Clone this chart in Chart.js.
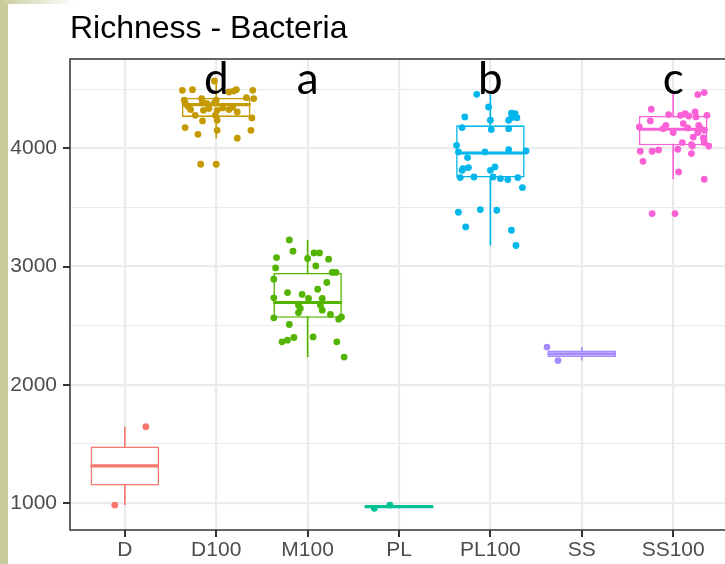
<!DOCTYPE html>
<html>
<head>
<meta charset="utf-8">
<script src="https://cdn.jsdelivr.net/npm/chart.js@4"></script>
<style>
  html, body { margin: 0; padding: 0; background: #fff; }
  #wrap { position: relative; width: 725px; height: 564px; overflow: hidden; }
  #strip { position: absolute; left: 0; top: 0; width: 8px; height: 564px; background: #cacb9c; }
  #fade { position: absolute; left: 0; top: 0; width: 75px; height: 4px; background: linear-gradient(to right, #cacb9c, #ffffff); }
  canvas { position: absolute; left: 0; top: 0; }
</style>
</head>
<body>
<div id="wrap">
  <canvas id="chart" width="735" height="564"></canvas>
  <div id="strip"></div>
  <div id="fade"></div>
</div>
<script>
// groups and box statistics
const categories = ['D', 'D100', 'M100', 'PL', 'PL100', 'SS', 'SS100'];
const colors = ['#F8766D', '#C49A00', '#53B400', '#00C094', '#00B6EB', '#A58AFF', '#FB61D7'];
const whiskerLow = [983, 4085, 2234, 955, 3178, 2205, 3738];
const quart1 = [1148, 4265, 2566, 962, 3752, 2234, 4025];
const medians = [1314, 4369, 2696, 969, 3960, 2262, 4161];
const quart3 = [1479, 4425, 2946, 976, 4194, 2290, 4273];
const whiskerHigh = [1645, 4569, 3225, 983, 4456, 2319, 4471];
const letters = ['', 'd', 'a', '', 'b', '', 'c'];

// y axis
const yTicks = [1000, 2000, 3000, 4000];
const yMinor = [1500, 2500, 3500, 4500];

// jittered samples (richness, horizontal jitter in category units)
const dRich = [983, 1645];
const dJit = [-0.11, 0.23];

const d100Rich = [4569, 4490, 4496, 4476, 4484, 4496, 4490, 4428, 4420, 4406, 4383, 4355, 4420, 4391, 4378, 4383, 4406, 4336, 4321, 4279, 4327, 4321, 4341, 4327, 4349, 4307, 4279, 4237, 4231, 4256, 4175, 4152, 4118, 4152, 4085, 3865, 3865];
const d100Jit = [-0.02, -0.37, -0.26, 0.14, 0.19, 0.22, 0.40, 0.33, 0.41, -0.35, -0.34, -0.31, -0.16, -0.15, -0.10, -0.02, 0.00, -0.08, -0.14, -0.23, -0.28, 0.01, 0.07, 0.14, 0.18, 0.23, -0.01, 0.01, -0.15, 0.39, -0.34, 0.01, -0.20, 0.38, 0.23, -0.17, 0.00];

const m100Rich = [3225, 3130, 3076, 3068, 3115, 3115, 3062, 3005, 2988, 2950, 2950, 2893, 2865, 2808, 2780, 2735, 2764, 2730, 2730, 2673, 2645, 2611, 2673, 2631, 2595, 2566, 2555, 2574, 2510, 2405, 2363, 2377, 2400, 2363, 2234];
const m100Jit = [-0.20, -0.16, -0.34, 0.00, 0.07, 0.13, 0.23, 0.09, -0.35, 0.27, 0.31, -0.37, 0.21, 0.11, -0.22, -0.37, -0.06, 0.01, 0.16, -0.10, -0.08, -0.10, 0.14, 0.16, 0.25, -0.37, 0.34, 0.37, -0.20, 0.06, -0.28, -0.22, -0.15, 0.32, 0.40];

const plRich = [955, 983];
const plJit = [-0.27, -0.10];

const pl100Rich = [4456, 4349, 4237, 4265, 4298, 4293, 4259, 4259, 4237, 4175, 4158, 4166, 4025, 3969, 3921, 3969, 3989, 3977, 3837, 3828, 3814, 3842, 3814, 3752, 3757, 3757, 3744, 3735, 3752, 3668, 3459, 3482, 3476, 3335, 3307, 3178];
const pl100Jit = [-0.15, -0.02, 0.00, -0.28, 0.23, 0.27, 0.23, 0.29, 0.20, -0.31, 0.01, 0.20, -0.37, -0.35, -0.25, -0.06, 0.20, 0.39, -0.24, -0.30, -0.31, 0.05, 0.00, -0.33, -0.18, 0.03, 0.11, 0.19, 0.30, 0.35, -0.35, -0.11, 0.07, -0.27, 0.23, 0.28];

const ssRich = [2319, 2205];
const ssJit = [-0.38, -0.26];

const ss100Rich = [4454, 4471, 4330, 4285, 4279, 4293, 4273, 4307, 4265, 4279, 4231, 4180, 4194, 4166, 4209, 4172, 4194, 4166, 4152, 4133, 4133, 4095, 4087, 4048, 4048, 4031, 4019, 4019, 3992, 3975, 3975, 3986, 3955, 3890, 3800, 3738, 3448, 3448];
const ss100Jit = [0.27, 0.34, -0.24, -0.05, 0.08, 0.13, 0.17, 0.24, 0.25, 0.37, -0.25, -0.37, -0.08, -0.11, 0.11, 0.16, 0.28, 0.30, 0.34, 0.27, 0.00, 0.22, 0.33, 0.34, 0.10, 0.20, 0.21, 0.39, 0.05, -0.36, -0.23, -0.16, 0.20, -0.33, 0.06, 0.34, -0.23, 0.02];

const groupRich = [dRich, d100Rich, m100Rich, plRich, pl100Rich, ssRich, ss100Rich];
const groupJit = [dJit, d100Jit, m100Jit, plJit, pl100Jit, ssJit, ss100Jit];

const halfBox = 0.375;
const tickLen = 7;
const gridGrey = '#EBEBEB';
const frameGrey = '#333333';
const textGrey = '#4D4D4D';

const datasets = [];

// whiskers behind the boxes
categories.forEach((c, i) => {
  datasets.push({
    type: 'line',
    data: [{ x: i, y: whiskerLow[i] }, { x: i, y: whiskerHigh[i] }],
    borderColor: colors[i],
    borderWidth: 1.6,
    pointRadius: 0,
    order: 4
  });
});

// boxes as floating bars
datasets.push({
  type: 'bar',
  data: categories.map((c, i) => ({ x: i, y: [quart1[i], quart3[i]] })),
  backgroundColor: '#ffffff',
  borderColor: colors,
  borderWidth: 1.6,
  borderSkipped: false,
  barPercentage: halfBox * 2,
  categoryPercentage: 1,
  order: 3
});

// medians
categories.forEach((c, i) => {
  datasets.push({
    type: 'line',
    data: [{ x: i - halfBox, y: medians[i] }, { x: i + halfBox, y: medians[i] }],
    borderColor: colors[i],
    borderWidth: 3.2,
    borderCapStyle: 'butt',
    pointRadius: 0,
    order: 2
  });
});

// jittered points
categories.forEach((c, i) => {
  datasets.push({
    type: 'scatter',
    data: groupRich[i].map((v, k) => ({ x: i + groupJit[i][k], y: v })),
    backgroundColor: colors[i],
    borderWidth: 0,
    pointRadius: 3.4,
    order: 1
  });
});

// panel border and outward tick marks
const framePlugin = {
  id: 'frame',
  afterDraw(chart) {
    const { ctx, chartArea: a, scales } = chart;
    ctx.save();
    ctx.strokeStyle = frameGrey;
    ctx.lineWidth = 1.5;
    ctx.strokeRect(a.left, a.top, a.right - a.left, a.bottom - a.top);
    ctx.fillStyle = frameGrey;
    categories.forEach((c, i) => {
      const x = Math.round(scales.x.getPixelForValue(i));
      ctx.fillRect(x - 1, a.bottom, 2, tickLen);
    });
    yTicks.forEach(v => {
      const y = Math.round(scales.y.getPixelForValue(v));
      ctx.fillRect(a.left - tickLen, y - 1, tickLen, 2);
    });
    ctx.restore();
  }
};

const letterPlugin = {
  id: 'letters',
  afterDraw(chart) {
    const { ctx, scales } = chart;
    ctx.save();
    ctx.font = '44px Lato, "Open Sans", sans-serif';
    ctx.fillStyle = '#000';
    ctx.textAlign = 'center';
    ctx.textBaseline = 'alphabetic';
    letters.forEach((t, i) => {
      if (!t) return;
      ctx.fillText(t, scales.x.getPixelForValue(i), scales.y.top + 35);
    });
    ctx.restore();
  }
};

new Chart(document.getElementById('chart'), {
  type: 'scatter',
  data: { datasets },
  options: {
    responsive: false,
    animation: false,
    devicePixelRatio: 1,
    layout: { padding: { left: 0, right: 7, top: 0, bottom: 0 } },
    plugins: {
      legend: { display: false },
      tooltip: { enabled: false },
      title: {
        display: true,
        text: 'Richness - Bacteria',
        align: 'start',
        fullSize: false,
        color: '#000',
        font: { family: '"Liberation Sans", Arial, sans-serif', size: 32, weight: 'normal' },
        padding: { top: 10, bottom: 10.6 }
      }
    },
    scales: {
      x: {
        type: 'linear',
        min: -0.6,
        max: 6.6,
        offset: false,
        afterBuildTicks: s => { s.ticks = categories.map((c, i) => ({ value: i })); },
        afterFit: s => { s.height = 34; },
        ticks: {
          callback: v => categories[v],
          color: textGrey,
          font: { family: '"Liberation Sans", Arial, sans-serif', size: 21 },
          padding: 1,
          maxRotation: 0,
          autoSkip: false
        },
        grid: { offset: false, color: gridGrey, lineWidth: 2.2, tickLength: tickLen, tickColor: 'rgba(0,0,0,0)' },
        border: { display: false }
      },
      y: {
        type: 'linear',
        min: 772,
        max: 4755,
        afterBuildTicks: s => {
          s.ticks = yTicks.concat(yMinor).sort((a, b) => a - b).map(v => ({ value: v }));
        },
        afterFit: s => { s.width = 70; },
        ticks: {
          callback: v => (yTicks.includes(v) ? String(v) : ''),
          color: textGrey,
          font: { family: '"Liberation Sans", Arial, sans-serif', size: 21 },
          padding: 6,
          autoSkip: false
        },
        grid: {
          offset: false,
          color: gridGrey,
          lineWidth: c => (yTicks.includes(c.tick.value) ? 2.2 : 1.1),
          tickLength: tickLen,
          tickColor: 'rgba(0,0,0,0)'
        },
        border: { display: false }
      }
    }
  },
  plugins: [framePlugin, letterPlugin]
});
</script>
</body>
</html>
